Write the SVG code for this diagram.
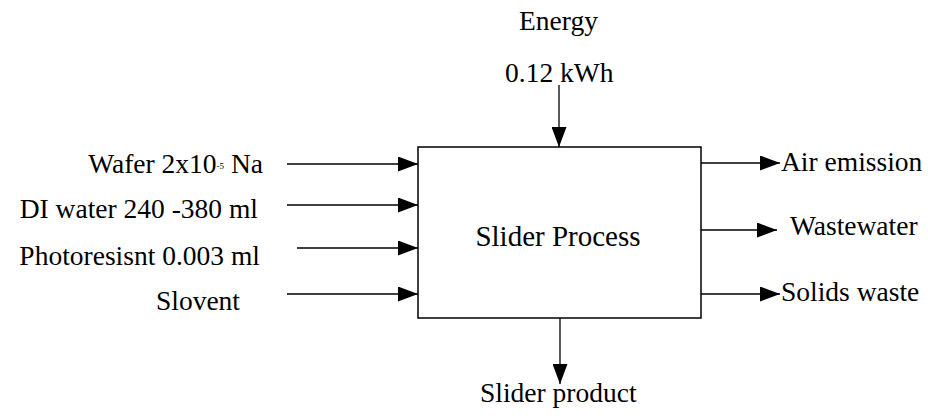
<svg xmlns="http://www.w3.org/2000/svg" width="928" height="416" viewBox="0 0 928 416" font-family="'Liberation Serif', 'DejaVu Serif', 'Times New Roman', Times, serif">
<style>
text { font-family: "Liberation Serif", "DejaVu Serif", "Times New Roman", Times, serif; font-size: 27.5px; fill: #000; }
.c { stroke: #000; stroke-width: 1.3; fill: none; }
</style>
<defs>
<marker id="ah" viewBox="0 0 20 15" refX="20" refY="7.5" markerWidth="20" markerHeight="15" markerUnits="userSpaceOnUse" orient="auto">
<path d="M0,0 L20,7.5 L0,15 Z" fill="#000"/>
</marker>
</defs>
<rect width="928" height="416" fill="#fff"/>
<g id="process">
<rect x="418" y="147" width="283" height="171" fill="#fff" stroke="#000" stroke-width="1.5"/>
<text x="558" y="246" text-anchor="middle" style="font-size:29px">Slider Process</text>
</g>
<g id="energy">
<text x="519" y="30">Energy</text>
<text x="505" y="82">0.12 kWh</text>
</g>
<g id="wafer"><text x="263" y="173" text-anchor="end">Wafer 2x10<tspan style="font-size:9px" dy="-4">-5</tspan><tspan dy="4"> Na</tspan></text></g>
<g id="diwater"><text x="258" y="218" text-anchor="end">DI water 240 -380 ml</text></g>
<g id="photoresist"><text x="260" y="265" text-anchor="end">Photoresisnt 0.003 ml</text></g>
<g id="solvent"><text x="240" y="310" text-anchor="end">Slovent</text></g>
<g id="air"><text x="781" y="171">Air emission</text></g>
<g id="wastewater"><text x="790" y="235">Wastewater</text></g>
<g id="solids"><text x="781" y="301">Solids waste</text></g>
<g id="product"><text x="480" y="402">Slider product</text></g>
<g id="connectors" class="c">
<line x1="559" y1="85" x2="559" y2="147" marker-end="url(#ah)"/>
<line x1="287" y1="164" x2="418" y2="164" marker-end="url(#ah)"/>
<line x1="287" y1="205" x2="418" y2="205" marker-end="url(#ah)"/>
<line x1="297" y1="248" x2="418" y2="248" marker-end="url(#ah)"/>
<line x1="287" y1="294" x2="418" y2="294" marker-end="url(#ah)"/>
<line x1="701" y1="163" x2="780" y2="163" marker-end="url(#ah)"/>
<line x1="701" y1="230" x2="777" y2="230" marker-end="url(#ah)"/>
<line x1="701" y1="294" x2="780" y2="294" marker-end="url(#ah)"/>
<line x1="560" y1="318" x2="560" y2="384" marker-end="url(#ah)"/>
</g>
</svg>
